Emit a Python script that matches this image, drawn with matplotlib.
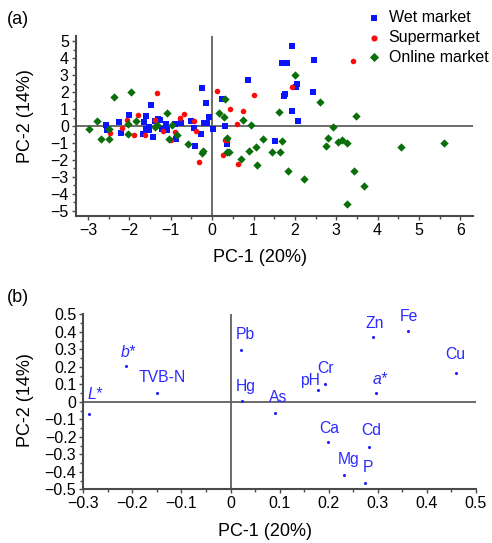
import matplotlib
matplotlib.use("Agg")
import matplotlib.pyplot as plt
from matplotlib.ticker import MultipleLocator, FuncFormatter

plt.rcParams["font.family"] = ["Liberation Sans", "DejaVu Sans"]

# ---- panel (a): PCA scores by market type ----
wet_x = [-2.57, -2.55, -2.25, -2.21, -2.01, -1.66, -1.60, -1.60, -1.68, -1.52,
         -1.53, -1.49, -1.44, -1.39, -1.31, -1.27, -1.22, -1.12, -1.10, -0.89,
         -0.88, -0.76, -0.51, -0.45, -0.41, -0.27, -0.24, -0.14, -0.07, -0.19,
         -0.12, 0.01, 0.23, 0.32, 0.35, 0.87, 1.52, 1.69, 1.80, 1.92,
         2.47, 2.05, 2.03, 1.76, 1.73, 2.43, 1.92, 2.07]
wet_y = [0.05, -0.23, 0.23, -0.44, 0.64, 0.23, 0.56, -0.16, -0.47, -0.06,
         -0.25, 1.21, -0.64, 0.27, 0.43, 0.33, -0.16, 0.10, -0.22, 0.14,
         -0.74, 0.16, 0.31, -0.14, -1.20, -0.49, 2.21, 1.34, 0.54, 0.19,
         0.16, -0.19, 1.57, 0.02, -1.05, 2.68, -0.89, 3.73, 3.73, 4.74,
         3.88, 2.49, 2.29, 1.86, 1.79, 2.02, 0.89, 0.32]

sup_x = [-2.48, -2.17, -2.06, -1.79, -1.88, -1.63, -1.39, -1.33, -1.20, -0.91,
         -0.99, -0.78, -0.67, -0.43, -0.40, -0.31, 0.12, 0.44, 0.75, 0.61,
         1.02, 0.32, 0.35, 0.26, 0.62, 1.92, 3.40]
sup_y = [-0.42, -0.10, 0.34, 0.66, -0.51, -0.54, 0.34, 1.96, -0.28, -0.36,
         -0.84, 0.45, 0.73, 0.32, -0.29, -2.12, 2.04, 1.01, 0.91, 0.14,
         1.83, -0.80, -0.82, -1.72, -2.25, 2.27, 3.84]

onl_x = [-2.98, -2.78, -2.69, -2.50, -2.50, -2.37, -1.96, -2.04, -2.03, -1.84,
         -1.38, -1.33, -1.10, -1.04, -0.98, -0.86, -0.58, -0.25, -0.21, 0.16,
         0.28, 0.30, 0.37, 0.37, 0.41, 0.70, 0.75, 0.94, 0.88, 1.08,
         1.05, 1.22, 1.44, 1.63, 1.61, 2.01, 2.60, 3.48, 2.91, 1.68,
         1.84, 2.23, 2.80, 2.75, 3.05, 3.13, 3.25, 3.43, 3.67, 3.25,
         4.57, 5.61]
onl_y = [-0.16, 0.29, -0.77, -0.77, -0.18, 1.73, 2.00, -0.45, 0.12, 0.29,
         -0.08, 0.06, 0.76, -0.75, 0.04, -0.53, -1.07, -1.57, -1.45, 0.78,
         0.54, 1.59, -0.68, -1.51, -1.53, -1.96, 0.38, 0.03, -1.48, -2.29,
         -1.26, -0.74, -1.56, -1.51, 0.82, 3.03, 1.44, 0.58, -0.04, -0.90,
         -2.67, -3.12, -0.70, -1.19, -0.93, -0.81, -0.99, -2.67, -3.53, -4.58,
         -1.24, -0.99]

# ---- panel (b): loadings ----
load_names = ["L*", "b*", "TVB-N", "Pb", "Hg", "As", "pH", "Cr", "a*", "Zn",
              "Fe", "Cu", "Ca", "Cd", "Mg", "P"]
load_x = [-0.288, -0.214, -0.149, 0.022, 0.024, 0.090, 0.178, 0.193, 0.296, 0.290,
          0.362, 0.460, 0.199, 0.282, 0.231, 0.274]
load_y = [-0.067, 0.204, 0.053, 0.297, 0.002, -0.063, 0.069, 0.101, 0.050, 0.368,
          0.402, 0.162, -0.230, -0.259, -0.417, -0.463]

# label offsets (pixels) and which names are italic
label_offset = {"L*": (6, 19), "b*": (3, 14), "TVB-N": (5, 15), "Pb": (4, 15),
                "Hg": (3, 15), "As": (3, 15), "pH": (-8, 9), "Cr": (0, 16),
                "a*": (4, 14), "Zn": (2, 14), "Fe": (1, 15), "Cu": (-1, 19),
                "Ca": (1, 14), "Cd": (2, 17), "Mg": (5, 15), "P": (3, 15)}
italic_names = {"L*", "b*", "a*"}

W, H = 492, 543
fig = plt.figure(figsize=(W / 100, H / 100), dpi=100)

AXCOL = "#4a4a4a"
ZEROCOL = "#606060"
TICKFS = 11.5


def fmt(v, pos):
    s = f"{round(v, 3):g}"
    return s.replace("-", "\u2212")


def style_axes(ax):
    for side in ("top", "right"):
        ax.spines[side].set_visible(False)
    for side in ("left", "bottom"):
        ax.spines[side].set_color(AXCOL)
        ax.spines[side].set_linewidth(1.5)
    ax.tick_params(which="both", direction="out", color=AXCOL, labelsize=TICKFS,
                   pad=2)
    ax.tick_params(which="major", length=3, width=1)
    ax.tick_params(which="minor", length=2, width=1)
    ax.axhline(0, color=ZEROCOL, lw=1.3, zorder=1)
    ax.axvline(0, color=ZEROCOL, lw=1.3, zorder=1)
    ax.xaxis.set_major_formatter(FuncFormatter(fmt))
    ax.yaxis.set_major_formatter(FuncFormatter(fmt))


# panel (a)
ax1 = fig.add_axes([75.7 / W, 1 - 216 / H, (472.7 - 75.7) / W, (216 - 36) / H])
ax1.scatter(wet_x, wet_y, marker="s", s=16, color="#0a14ff", lw=0, zorder=3,
            label="Wet market")
ax1.scatter(sup_x, sup_y, marker="o", s=16, color="#ff0a0a", lw=0, zorder=3,
            label="Supermarket")
ax1.scatter(onl_x, onl_y, marker="D", s=18, color="#0a6e0a", lw=0, zorder=3,
            label="Online market")
ax1.set_xlim(-3.3, 6.3)
ax1.set_ylim(-5.3, 5.3)
ax1.xaxis.set_major_locator(MultipleLocator(1))
ax1.xaxis.set_minor_locator(MultipleLocator(0.5))
ax1.yaxis.set_major_locator(MultipleLocator(1))
ax1.yaxis.set_minor_locator(MultipleLocator(0.5))
style_axes(ax1)

fig.legend(loc="upper left", bbox_to_anchor=(368 / W, 1 - 10 / H), frameon=False,
           fontsize=11.5, handlelength=0.8, handletextpad=0.5, labelspacing=0.3,
           borderpad=0, borderaxespad=0, markerscale=1.1)

# panel (b)
ax2 = fig.add_axes([83.3 / W, 1 - 489.3 / H, (476 - 83.3) / W, (489.3 - 314.3) / H])
ax2.scatter(load_x, load_y, s=5, color="#2020ff", lw=0, zorder=3)
for name, x, y in zip(load_names, load_x, load_y):
    dx, dy = label_offset[name]
    ax2.annotate(name, (x, y), xytext=(dx, dy), textcoords="offset pixels",
                 ha="center", va="center", fontsize=11.3, color="#2b2bff",
                 fontstyle="italic" if name in italic_names else "normal")
ax2.set_xlim(-0.3, 0.5)
ax2.set_ylim(-0.5, 0.5)
ax2.xaxis.set_major_locator(MultipleLocator(0.1))
ax2.xaxis.set_minor_locator(MultipleLocator(0.05))
ax2.yaxis.set_major_locator(MultipleLocator(0.1))
ax2.yaxis.set_minor_locator(MultipleLocator(0.05))
style_axes(ax2)

# axis titles and panel letters
LABFS = 13
fig.text(260 / W, 1 - 257 / H, "PC-1 (20%)", ha="center", va="center", fontsize=LABFS)
fig.text(265 / W, 1 - 531 / H, "PC-1 (20%)", ha="center", va="center", fontsize=LABFS)
fig.text(25 / W, 1 - 116 / H, "PC-2 (14%)", ha="center", va="center",
         rotation=90, fontsize=LABFS)
fig.text(25 / W, 1 - 400 / H, "PC-2 (14%)", ha="center", va="center",
         rotation=90, fontsize=LABFS)
fig.text(7 / W, 1 - 19 / H, "(a)", ha="left", va="center", fontsize=LABFS)
fig.text(7 / W, 1 - 297 / H, "(b)", ha="left", va="center", fontsize=LABFS)

fig.savefig("out.png", dpi=100)
